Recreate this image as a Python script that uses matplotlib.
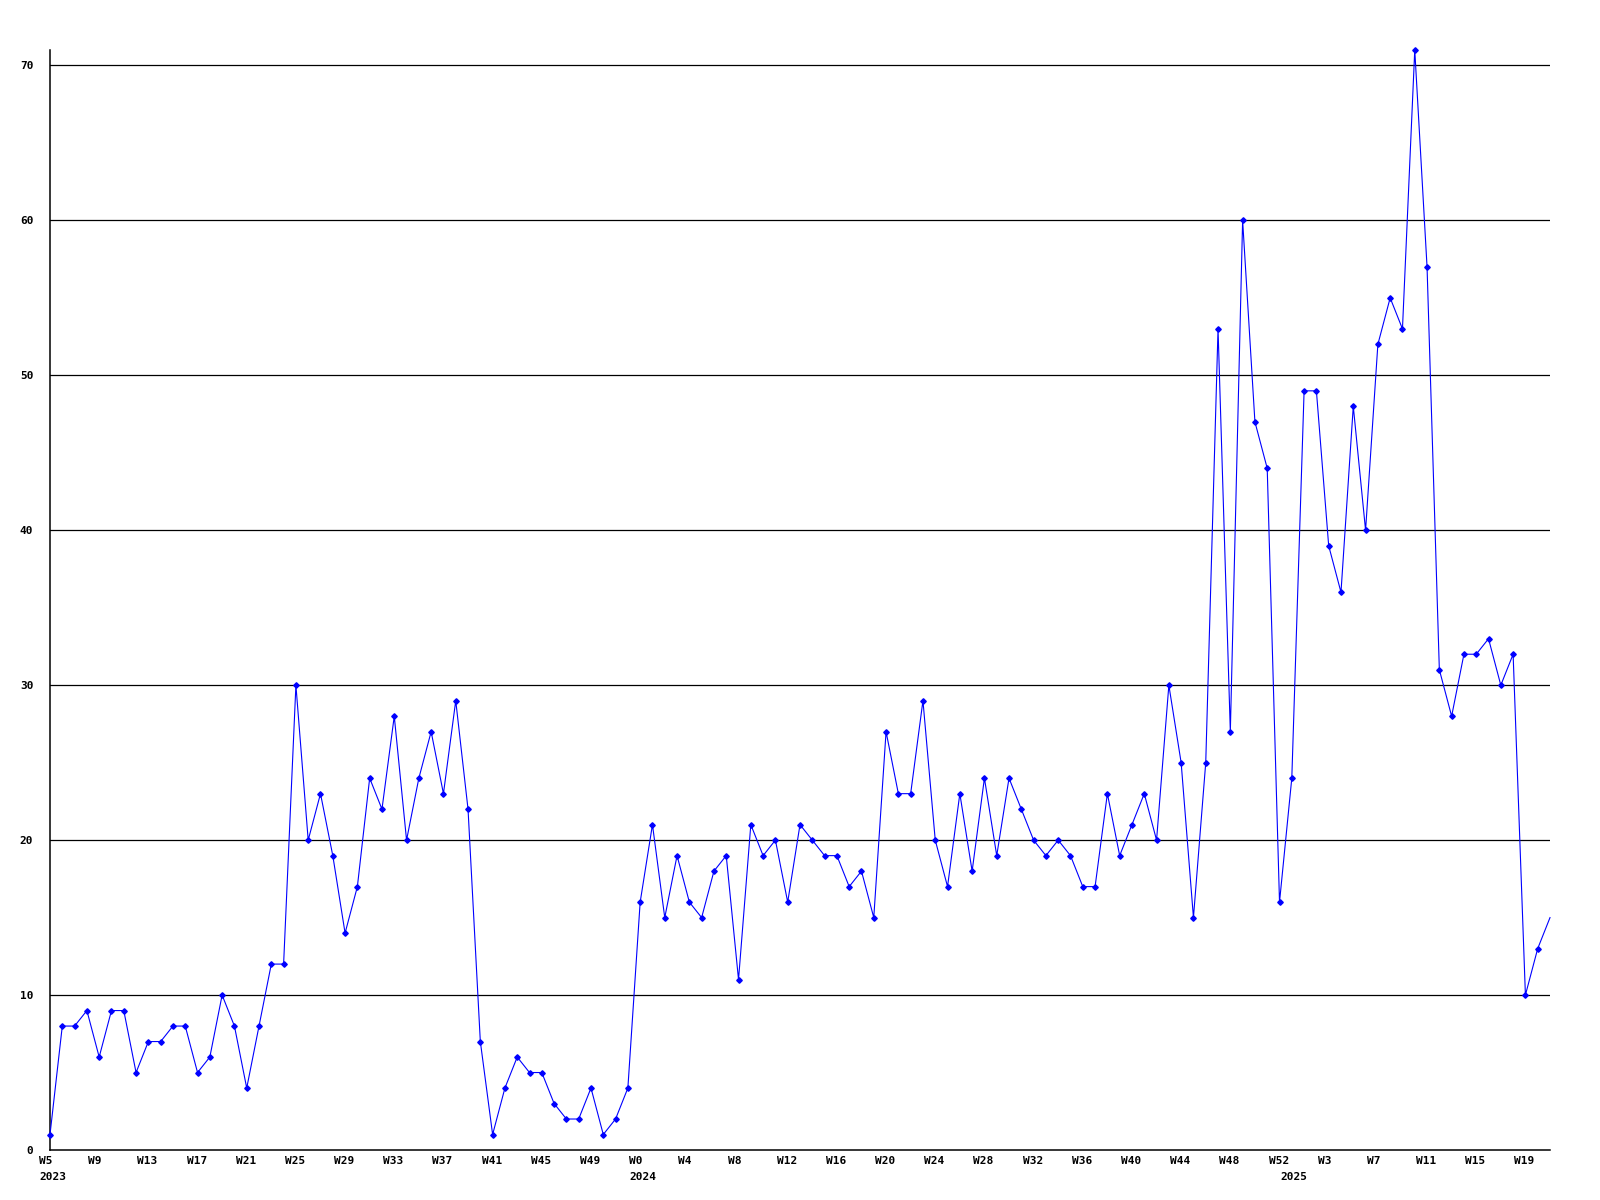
import matplotlib
matplotlib.use("Agg")
import matplotlib.pyplot as plt
import matplotlib.transforms as mtransforms

# ---- data -------------------------------------------------------------
weeks_2023 = [f"W{w}" for w in range(5, 53)]     # W5 .. W52
weeks_2024 = [f"W{w}" for w in range(0, 53)]     # W0 .. W52
weeks_2025 = [f"W{w}" for w in range(0, 22)]     # W0 .. W21
week_labels = weeks_2023 + weeks_2024 + weeks_2025
years = ["2023", "2024", "2025"]

values = [
    1, 8, 8, 9, 6, 9, 9, 5, 7, 7, 8, 8, 5, 6, 10, 8, 4, 8, 12, 12,
    30, 20, 23, 19, 14, 17, 24, 22, 28, 20, 24, 27, 23, 29, 22, 7, 1, 4, 6, 5,
    5, 3, 2, 2, 4, 1, 2, 4, 16, 21, 15, 19, 16, 15, 18, 19, 11, 21, 19, 20,
    16, 21, 20, 19, 19, 17, 18, 15, 27, 23, 23, 29, 20, 17, 23, 18, 24, 19, 24, 22,
    20, 19, 20, 19, 17, 17, 23, 19, 21, 23, 20, 30, 25, 15, 25, 53, 27, 60, 47, 44,
    16, 24, 49, 49, 39, 36, 48, 40, 52, 55, 53, 71, 57, 31, 28, 32, 32, 33, 30, 32,
    10, 13, 15,
]
y_ticks = [0, 10, 20, 30, 40, 50, 60, 70]

# ---- figure -----------------------------------------------------------
fig = plt.figure(figsize=(16, 12), dpi=100)
ax = fig.add_axes([50 / 1600, 50 / 1200, 1500 / 1600, 1100 / 1200])

x = list(range(len(values)))
ax.set_xlim(0, len(values) - 1)
ax.set_ylim(0, max(values))

for v in y_ticks[1:]:
    ax.axhline(v, color="black", lw=0.9, zorder=1)

ax.plot(x, values, color="#0000ff", lw=0.8, marker="D", markersize=2.8,
        markevery=list(range(len(values) - 1)), zorder=3, clip_on=False)

for s in ["top", "right"]:
    ax.spines[s].set_visible(False)
for s in ["left", "bottom"]:
    ax.spines[s].set_color("black")
    ax.spines[s].set_linewidth(1.1)

font = dict(family="DejaVu Sans Mono", weight="bold", size=8)

ax.set_yticks(y_ticks)
ax.set_yticklabels([str(v) for v in y_ticks], **font)
ax.tick_params(axis="y", length=0, pad=12)

tick_idx = list(range(0, len(values), 4))
ax.set_xticks(tick_idx)
ax.set_xticklabels([week_labels[i] for i in tick_idx], ha="left", **font)
ax.tick_params(axis="x", length=0, pad=4)
offset = mtransforms.ScaledTranslation(-11 / 100, 0, fig.dpi_scale_trans)
for lbl in ax.get_xticklabels():
    lbl.set_transform(lbl.get_transform() + offset)

# year labels at first week of each year
year_starts = [0, len(weeks_2023), len(weeks_2023) + len(weeks_2024)]
trans = mtransforms.blended_transform_factory(ax.transData, fig.transFigure)
for yr, i in zip(years, year_starts):
    ax.text(i, (1200 - 1177) / 1200, yr, transform=trans + offset,
            ha="left", va="center", **font)

fig.savefig("out.png", dpi=100, facecolor="white")
